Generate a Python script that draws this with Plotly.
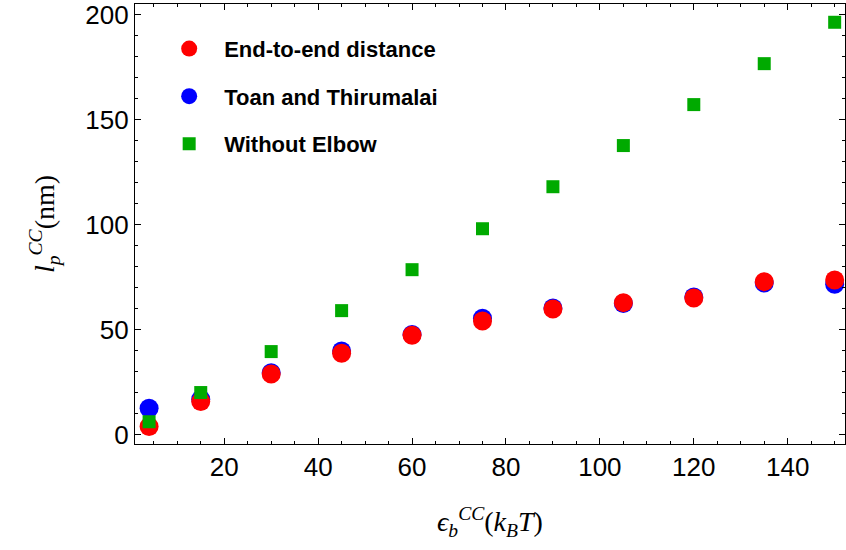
import plotly.graph_objects as go

x_vals = [4, 15, 30, 45, 60, 75, 90, 105, 120, 135, 150]
end_to_end = [4.0, 15.9, 29.0, 38.9, 47.5, 54.3, 60.0, 63.0, 65.2, 73.0, 73.8]
toan_thirumalai = [12.7, 17.0, 29.6, 40.0, 47.8, 55.6, 60.5, 62.6, 65.7, 72.3, 71.8]
without_elbow = [6.3, 20.2, 39.7, 59.2, 78.7, 98.2, 118.2, 137.8, 157.3, 176.8, 196.5]

series_names = ["End-to-end distance", "Toan and Thirumalai", "Without Elbow"]

fig = go.Figure()
fig.add_trace(go.Scatter(x=x_vals, y=toan_thirumalai, mode="markers", name=series_names[1],
                         marker=dict(symbol="circle", size=19, color="rgb(0,0,255)", line=dict(width=0)),
                         legendrank=2, legendgroup="b"))
fig.add_trace(go.Scatter(x=x_vals, y=end_to_end, mode="markers", name=series_names[0],
                         marker=dict(symbol="circle", size=19, color="rgb(255,0,0)", line=dict(width=0)),
                         legendrank=1, legendgroup="a"))
fig.add_trace(go.Scatter(x=x_vals, y=without_elbow, mode="markers", name=series_names[2],
                         marker=dict(symbol="square", size=13, color="rgb(0,170,0)", line=dict(width=0)),
                         legendrank=3, legendgroup="c"))

tickfont = dict(family="Liberation Sans, Arial, sans-serif", size=26, color="black")
axis_common = dict(showgrid=False, zeroline=False, showline=True, linecolor="black", linewidth=1.2,
                   mirror="allticks", ticks="inside", tickcolor="black", ticklen=6, tickwidth=1,
                   tickfont=tickfont)
title_font = dict(family="Liberation Serif, Times New Roman, serif", size=28, color="black")

fig.update_xaxes(range=[1, 152.2], tickvals=[20, 40, 60, 80, 100, 120, 140],
                 minor=dict(ticks="inside", ticklen=3, tickcolor="black", dtick=5, tick0=0),
                 title=dict(text="<i>ϵ</i><sub><i>b</i></sub><sup><i>CC</i></sup>(<i>k</i><sub><i>B</i></sub><i>T</i>)",
                            font=title_font, standoff=30),
                 **axis_common)
fig.update_yaxes(range=[-4.3, 205.2], tickvals=[0, 50, 100, 150, 200],
                 minor=dict(ticks="inside", ticklen=3, tickcolor="black", dtick=10, tick0=0),
                 title=dict(text="<i>l</i><sub><i>p</i></sub><sup><i>CC</i></sup>(nm)",
                            font=title_font, standoff=22),
                 **axis_common)

fig.update_layout(
    width=846, height=550,
    margin=dict(l=135, r=1, t=4, b=106),
    paper_bgcolor="white", plot_bgcolor="white",
    showlegend=True,
    legend=dict(x=0.027, y=0.946, xanchor="left", yanchor="top",
                font=dict(family="Liberation Sans, Arial, sans-serif", size=22, color="black", weight="bold"),
                bgcolor="rgba(0,0,0,0)", itemwidth=60, traceorder="grouped", tracegroupgap=16,
                itemsizing="trace"),
)

fig.write_html("out.html")
